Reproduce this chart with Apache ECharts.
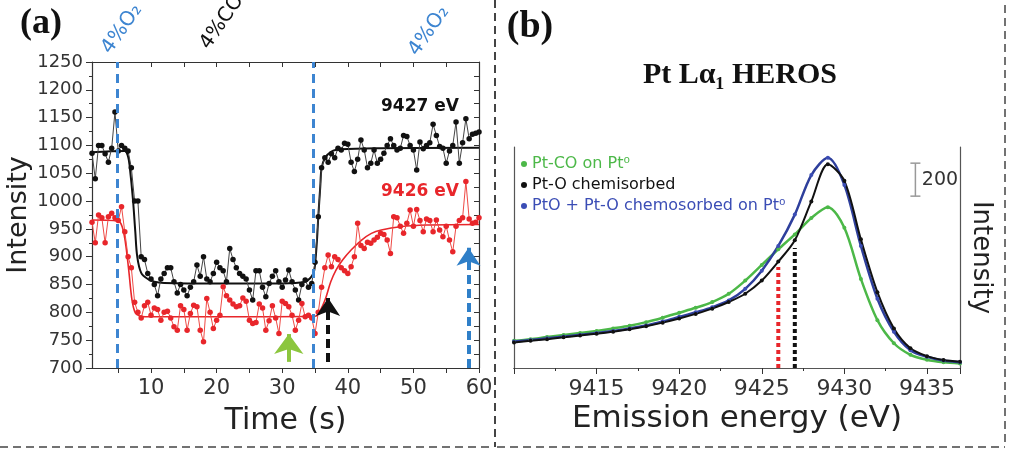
<!DOCTYPE html>
<html>
<head>
<meta charset="utf-8">
<script src="https://cdn.jsdelivr.net/npm/echarts@6/dist/echarts.min.js"></script>
<style>
  html, body { margin: 0; padding: 0; background: #fff; }
  #chart { width: 1021px; height: 457px; }
</style>
</head>
<body>
<div id="chart"></div>
<script>
// ---- panel (a): intensity vs time ----
const time = [1,1.5,2,2.5,3,3.5,4,4.5,5,5.5,6,6.5,7,7.5,8,8.5,9,9.5,10,10.5,11,11.5,12,12.5,13,13.5,14,14.5,15,15.5,16,16.5,17,17.5,18,18.5,19,19.5,20,20.5,21,21.5,22,22.5,23,23.5,24,24.5,25,25.5,26,26.5,27,27.5,28,28.5,29,29.5,30,30.5,31,31.5,32,32.5,33,33.5,34,34.5,35,35.5,36,36.5,37,37.5,38,38.5,39,39.5,40,40.5,41,41.5,42,42.5,43,43.5,44,44.5,45,45.5,46,46.5,47,47.5,48,48.5,49,49.5,50,50.5,51,51.5,52,52.5,53,53.5,54,54.5,55,55.5,56,56.5,57,57.5,58,58.5,59,59.5,60]
const i9427 = [1086,1040,1100,1100,1085,1070,1095,1160,1090,1100,
  1095,1090,1060,1000,1000,900,895,870,860,850,
  830,860,870,880,880,855,835,850,840,830,
  845,855,885,865,900,860,855,870,890,880,
  875,855,915,895,880,870,865,860,840,822,
  875,875,845,828,852,865,875,855,845,858,
  876,855,840,822,850,858,845,852,890,972,
  1060,1078,1070,1085,1078,1095,1092,1104,1102,1070,
  1053,1075,1110,1092,1060,1068,1092,1068,1075,1086,
  1100,1112,1100,1092,1095,1118,1116,1100,1092,1056,
  1106,1094,1100,1105,1138,1118,1098,1095,1068,1090,
  1100,1142,1068,1105,1148,1112,1120,1122,1124]
const i9426 = [962,925,975,970,925,972,978,970,965,990,
  945,900,880,818,800,790,812,818,795,808,
  805,786,800,802,790,774,768,812,805,768,
  798,813,810,768,747,825,800,771,786,795,
  846,830,822,815,810,812,826,820,786,780,
  782,815,808,768,785,812,790,762,820,816,
  810,795,768,786,816,792,795,790,762,800,
  845,880,903,882,900,895,880,875,870,882,
  900,960,920,915,926,924,930,935,942,940,
  930,906,972,970,955,942,960,984,955,985,
  965,945,968,965,945,966,948,936,955,930,
  909,955,965,970,1035,968,960,962,970]
// fitted curves
const fitTime427 = [1,6,6.5,6.75,7.25,7.6,7.9,8.5,9.5,10.5,12,20,30,33.5,34.3,34.8,35,35.3,35.5,35.8,36,36.5,37.5,39,45,60]
const fit427 = [1088,1090,1080,1062,1002,945,900,871,860,855,853,852,852,855,862,872,885,930,972,1026,1059,1077,1089,1093,1095,1096]
const fitTime426 = [1,5,5.6,6.1,6.6,7.1,7.6,8.2,9.1,20,35,35.5,36.2,36.7,37.4,38.2,39.2,40.5,42.1,43.6,45.1,48,52,60]
const fit426 = [966,964,954,925,876,822,799,794,792,792,793,797,813,828,855,876,894,912,930,942,948,954,957,958]
const gasSwitch = [4.8, 34.7]
const timeLabels = [10, 20, 30, 40, 50, 60]
const timeTicks = [5, 10, 15, 20, 25, 30, 35, 40, 45, 50, 55, 60]
// arrows: [time, from, to]
const arrowGreen = [31, 711, 761]
const arrowBlack = [37, 711, 826]
const arrowBlue = [58.4, 700, 916]

// ---- panel (b): HEROS spectra ----
const energy = [9410,9411,9412,9413,9414,9415,9416,9417,9418,9419,9420,9421,9422,9423,9424,9425,9426,9427,9428,9429,9430,9431,9432,9433,9434,9435,9436,9437]
const ptCO = [165,175,188,200,212,225,240,256,278,305,335,365,400,450,530,625,720,810,910,975,850,540,290,150,80,50,35,28]
const ptO = [155,165,175,186,197,208,220,235,253,275,300,328,360,400,450,530,645,775,1010,1235,1135,780,460,240,120,72,48,38]
const ptOx = [160,170,180,191,201,212,225,240,258,282,310,338,368,410,480,590,740,930,1170,1275,1110,740,420,220,108,68,45,35]
const markRed = [9426, 0, 612]
const markBlack = [9427, 0, 727]
const scaleBar = [9434.3, 1042, 1242]

const sans = '"DejaVu Sans", sans-serif'
const serif = '"Liberation Serif", "DejaVu Serif", serif'
const blueDash = '#3d85d1'

let chart = echarts.init(document.getElementById('chart'))

const pairs = (xs, ys) => xs.map((x, i) => [x, ys[i]])
const plain = v => String(v)

function arrowLine(a, color, dashed, size) {
  return [
    { coord: [a[0], a[1]], symbol: 'none',
      lineStyle: { color: color, width: 4, type: dashed ? [9, 5] : 'solid' } },
    { coord: [a[0], a[2]], symbol: 'arrow', symbolSize: size }
  ]
}

function label(x, y, text, font, fill, deg) {
  return {
    type: 'text', x: x, y: y, rotation: (deg || 0) * Math.PI / 180,
    style: { text: text, font: font, fill: fill, align: 'center', verticalAlign: 'middle',
      textAlign: 'center', textVerticalAlign: 'middle' }
  }
}

const option = {
  animation: false,
  backgroundColor: '#fff',
  textStyle: { fontFamily: sans },
  grid: [
    { left: 92, right: 542, top: 62, bottom: 89 },
    { left: 514, right: 61, top: 147, bottom: 89 }
  ],
  legend: {
    left: 521, top: 156, orient: 'vertical', padding: 0,
    itemGap: 5, itemWidth: 6, itemHeight: 6, icon: 'circle',
    textStyle: { fontSize: 16, fontFamily: sans },
    data: [
      { name: 'Pt-CO on Pt⁰', textStyle: { color: '#4cb848' } },
      { name: 'Pt-O chemisorbed', textStyle: { color: '#111' } },
      { name: 'PtO + Pt-O chemosorbed on Pt⁰', textStyle: { color: '#3b4db5' } }
    ]
  },
  xAxis: [
    {
      gridIndex: 0, type: 'value', min: 1, max: 60,
      name: 'Time (s)', nameLocation: 'middle', nameGap: 38,
      nameTextStyle: { fontSize: 30, color: '#222' },
      axisLine: { lineStyle: { color: '#333', width: 1.2 } },
      axisTick: { customValues: timeTicks, length: 5, lineStyle: { color: '#333' } },
      axisLabel: { customValues: timeLabels, fontSize: 21, color: '#333', margin: 10, formatter: plain },
      splitLine: { show: false }
    },
    {
      gridIndex: 0, type: 'value', min: 1, max: 60, position: 'top',
      axisLine: { lineStyle: { color: '#333', width: 1.2 } },
      axisTick: { customValues: timeTicks, inside: true, length: 5, lineStyle: { color: '#333' } },
      axisLabel: { show: false },
      splitLine: { show: false }
    },
    {
      gridIndex: 1, type: 'value', min: 9410, max: 9437, interval: 5,
      name: 'Emission energy (eV)', nameLocation: 'middle', nameGap: 35,
      nameTextStyle: { fontSize: 31, color: '#222' },
      axisLine: { lineStyle: { color: '#333', width: 1.2 } },
      axisTick: { length: 6, lineStyle: { color: '#333' } },
      minorTick: { show: true, splitNumber: 2, length: 3, lineStyle: { color: '#333' } },
      axisLabel: { fontSize: 22, color: '#333', margin: 10, showMinLabel: false, showMaxLabel: false, formatter: plain },
      splitLine: { show: false }
    },
    {
      gridIndex: 1, type: 'value', min: 9410, max: 9437, position: 'top',
      axisLine: { lineStyle: { color: '#555', width: 1.2 } },
      axisTick: { show: false }, axisLabel: { show: false },
      splitLine: { show: false }
    }
  ],
  yAxis: [
    {
      gridIndex: 0, type: 'value', min: 700, max: 1250, interval: 50,
      name: 'Intensity', nameLocation: 'middle', nameGap: 60,
      nameTextStyle: { fontSize: 27, color: '#222' },
      axisLine: { show: true, lineStyle: { color: '#333', width: 1.2 } },
      axisTick: { show: true, length: 6, lineStyle: { color: '#333' } },
      minorTick: { show: true, splitNumber: 2, length: 3, lineStyle: { color: '#333' } },
      axisLabel: { fontSize: 18, color: '#333', margin: 9, formatter: plain },
      splitLine: { show: false }
    },
    {
      gridIndex: 0, type: 'value', min: 700, max: 1250, interval: 25, position: 'right',
      axisLine: { show: true, lineStyle: { color: '#333', width: 1.2 } },
      axisTick: { show: true, inside: true, length: 5, lineStyle: { color: '#333' } },
      axisLabel: { show: false },
      splitLine: { show: false }
    },
    {
      gridIndex: 1, type: 'value', min: 0, max: 1340,
      axisLine: { show: true, lineStyle: { color: '#555', width: 1.2 } },
      axisTick: { show: false }, axisLabel: { show: false },
      splitLine: { show: false }
    },
    {
      gridIndex: 1, type: 'value', min: 0, max: 1340, position: 'right',
      name: 'Intensity', nameLocation: 'middle', nameGap: 8, nameRotate: -90,
      nameTextStyle: { fontSize: 26, color: '#222' },
      axisLine: { show: true, lineStyle: { color: '#555', width: 1.2 } },
      axisTick: { show: false }, axisLabel: { show: false },
      splitLine: { show: false }
    }
  ],
  series: [
    // (a) fits
    {
      name: 'fit 9427', type: 'line', xAxisIndex: 0, yAxisIndex: 0,
      data: pairs(fitTime427, fit427), smooth: 0.35, showSymbol: false,
      lineStyle: { color: '#111', width: 2 }, z: 3,
      markLine: {
        silent: true, symbol: 'none', label: { show: false },
        lineStyle: { color: blueDash, width: 3, type: [9, 6] },
        data: gasSwitch.map(t => ({ xAxis: t }))
      }
    },
    {
      name: 'fit 9426', type: 'line', xAxisIndex: 0, yAxisIndex: 0,
      data: pairs(fitTime426, fit426), smooth: 0.35, showSymbol: false,
      lineStyle: { color: '#e8262b', width: 1.6 }, z: 3,
      markLine: {
        silent: true, label: { show: false },
        data: [
          arrowLine(arrowGreen, '#8cc63e', false, [22, 20]),
          arrowLine(arrowBlack, '#111', true, [18, 18]),
          arrowLine(arrowBlue, '#2f7fc8', true, [18, 18])
        ]
      }
    },
    {
      name: '9427 eV', type: 'line', xAxisIndex: 0, yAxisIndex: 0,
      data: pairs(time, i9427), symbol: 'circle', symbolSize: 5.5,
      itemStyle: { color: '#111' }, lineStyle: { color: '#444', width: 1 }, z: 4
    },
    {
      name: '9426 eV', type: 'line', xAxisIndex: 0, yAxisIndex: 0,
      data: pairs(time, i9426), symbol: 'circle', symbolSize: 5.5,
      itemStyle: { color: '#e8262b' }, lineStyle: { color: '#ef4a45', width: 1 }, z: 4
    },
    // (b) spectra
    {
      name: 'Pt-CO on Pt⁰', type: 'line', xAxisIndex: 2, yAxisIndex: 2,
      data: pairs(energy, ptCO), smooth: 0.3, symbol: 'circle', symbolSize: 4,
      itemStyle: { color: '#4cb848' }, lineStyle: { color: '#4cb848', width: 2.5 }
    },
    {
      name: 'PtO + Pt-O chemosorbed on Pt⁰', type: 'line', xAxisIndex: 2, yAxisIndex: 2,
      data: pairs(energy, ptOx), smooth: 0.3, symbol: 'circle', symbolSize: 4,
      itemStyle: { color: '#3b4db5' }, lineStyle: { color: '#2e3f9c', width: 2.5 }
    },
    {
      name: 'Pt-O chemisorbed', type: 'line', xAxisIndex: 2, yAxisIndex: 2,
      data: pairs(energy, ptO), smooth: 0.3, symbol: 'circle', symbolSize: 4,
      itemStyle: { color: '#111' }, lineStyle: { color: '#111', width: 2 }
    },
    {
      name: 'mark 9426', type: 'line', xAxisIndex: 2, yAxisIndex: 2,
      data: [[markRed[0], markRed[1]], [markRed[0], markRed[2]]], showSymbol: false,
      lineStyle: { color: '#e8262b', width: 4, type: [4, 3] }, silent: true
    },
    {
      name: 'mark 9427', type: 'line', xAxisIndex: 2, yAxisIndex: 2,
      data: [[markBlack[0], markBlack[1]], [markBlack[0], markBlack[2]]], showSymbol: false,
      lineStyle: { color: '#111', width: 4, type: [4, 3] }, silent: true
    },
    {
      name: 'scale', type: 'line', xAxisIndex: 2, yAxisIndex: 2,
      data: [[scaleBar[0], scaleBar[1]], [scaleBar[0], scaleBar[2]]],
      symbol: 'rect', symbolSize: [10, 1.5], itemStyle: { color: '#999' },
      lineStyle: { color: '#999', width: 1.5 }, silent: true
    }
  ],
  graphic: [
    // panel frames
    { type: 'line', shape: { x1: 0, y1: 447, x2: 494, y2: 447 }, style: { stroke: '#444', lineWidth: 1.5, lineDash: [8, 5] } },
    { type: 'line', shape: { x1: 495, y1: 0, x2: 495, y2: 447 }, style: { stroke: '#444', lineWidth: 2, lineDash: [8, 5] } },
    { type: 'line', shape: { x1: 497, y1: 447, x2: 1005, y2: 447 }, style: { stroke: '#444', lineWidth: 1.5, lineDash: [8, 5] } },
    { type: 'line', shape: { x1: 1005, y1: 5, x2: 1005, y2: 447 }, style: { stroke: '#444', lineWidth: 1.5, lineDash: [8, 5] } },
    // panel letters and title
    label(41, 24, '(a)', 'bold 36px ' + serif, '#111'),
    label(530, 27, '(b)', 'bold 38px ' + serif, '#111'),
    label(740, 75, 'Pt Lα₁ HEROS', 'bold 30px ' + serif, '#111'),
    // gas labels
    label(122, 29, '4%O₂', '20px ' + sans, blueDash, 55),
    label(222, 22, '4%CO', '20px ' + sans, '#111', 55),
    label(429, 31, '4%O₂', '20px ' + sans, blueDash, 55),
    // series labels
    label(420, 107, '9427 eV', 'bold 17px ' + sans, '#111'),
    label(420, 192, '9426 eV', 'bold 17px ' + sans, '#e8262b'),
    // scale bar value
    label(940, 180, '200', '19px ' + sans, '#333')
  ]
}

chart.setOption(option)
</script>
</body>
</html>
